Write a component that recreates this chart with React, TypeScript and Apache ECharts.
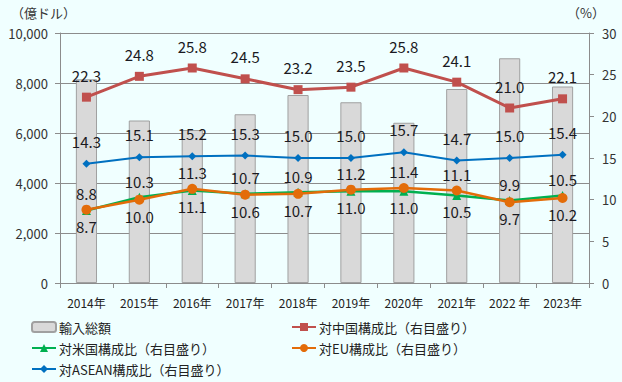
import React, { useEffect, useRef } from "react";
import * as echarts from "echarts";

const categories = ["2014年", "2015年", "2016年", "2017年", "2018年", "2019年", "2020年", "2021年", "2022 年", "2023年"];
const importTotal = [8150, 6500, 6120, 6750, 7520, 7230, 6410, 7760, 8990, 7860];
const chinaShare = [22.3, 24.8, 25.8, 24.5, 23.2, 23.5, 25.8, 24.1, 21.0, 22.1];
const usShare = [8.7, 10.3, 11.1, 10.7, 10.9, 11.0, 11.0, 10.5, 9.9, 10.5];
const euShare = [8.8, 10.0, 11.3, 10.6, 10.7, 11.2, 11.4, 11.1, 9.7, 10.2];
const aseanShare = [14.3, 15.1, 15.2, 15.3, 15.0, 15.0, 15.7, 14.7, 15.0, 15.4];
// which of US/EU label goes on top at each year
const usLabelTop = [false, true, false, true, true, false, false, false, true, true];

const FONT = "'Noto Sans CJK JP', 'Noto Sans', sans-serif";
const LABEL_COLOR = "#1a1a22";

const legendItems: [string, number, number][] = [
  ["輸入総額", 31, 320],
  ["対米国構成比（右目盛り）", 31, 341],
  ["対ASEAN構成比（右目盛り）", 31, 362],
  ["対中国構成比（右目盛り）", 291, 320],
  ["対EU構成比（右目盛り）", 291, 341],
];

export default function App() {
  const ref = useRef<HTMLDivElement>(null);
  useEffect(() => {
    if (!ref.current) return;
    const chart = echarts.init(ref.current, null, { renderer: "svg" });
    const lblBase = { show: true, fontSize: 15, color: LABEL_COLOR, fontFamily: FONT, formatter: (p: any) => Number(p.value).toFixed(1) };
    chart.setOption({
      animation: false,
      backgroundColor: "#f0ffff",
      textStyle: { fontFamily: FONT },
      grid: { left: 60, right: 33, top: 33, bottom: 99 },
      graphic: [
        { type: "text", left: 11, top: 6, style: { text: "（億ドル）", fontSize: 13, fill: "#333", fontFamily: FONT } },
        { type: "text", left: 567, top: 6, style: { text: "（%）", fontSize: 13, fill: "#333", fontFamily: FONT } },
      ],
      legend: legendItems.map(([name, left, top]) => ({
        left, top, orient: "horizontal", itemWidth: 24, itemHeight: 10, itemGap: 0,
        padding: 0,
        textStyle: { fontSize: 13, color: "#222", fontFamily: FONT, lineHeight: 14, padding: [0, 0, 0, -2] },
        data: [name],
      })),
      xAxis: {
        type: "category",
        data: categories,
        axisLine: { lineStyle: { color: "#8c8c8c" } },
        axisTick: { show: true, length: 5, lineStyle: { color: "#8c8c8c" } },
        axisLabel: { fontSize: 12, color: "#222", margin: 13, fontFamily: FONT, interval: 0 },
      },
      yAxis: [
        {
          type: "value", min: 0, max: 10000, interval: 2000,
          axisLine: { show: true, lineStyle: { color: "#8c8c8c" } },
          axisTick: { show: true, length: 5, lineStyle: { color: "#8c8c8c" } },
          splitLine: { lineStyle: { color: "#8c8c8c" } },
          axisLabel: { fontSize: 13, color: "#333", margin: 12, fontFamily: FONT, formatter: (v: number) => v.toLocaleString("en-US") },
        },
        {
          type: "value", min: 0, max: 30, interval: 5,
          axisLine: { show: true, lineStyle: { color: "#8c8c8c" } },
          axisTick: { show: true, length: 5, lineStyle: { color: "#8c8c8c" } },
          splitLine: { show: false },
          axisLabel: { fontSize: 13, color: "#333", margin: 13, fontFamily: FONT },
        },
      ],
      series: [
        {
          name: "輸入総額", type: "bar", data: importTotal, barWidth: "40%",
          itemStyle: { color: "#d9d9d9", borderColor: "#a0a0a0", borderWidth: 1 },
          z: 1,
        },
        {
          name: "対中国構成比（右目盛り）", type: "line", yAxisIndex: 1, data: chinaShare,
          symbol: "rect", symbolSize: 9, lineStyle: { color: "#c0504d", width: 3 },
          itemStyle: { color: "#c0504d" },
          label: { ...lblBase, position: "top", distance: 10 },
          z: 5,
        },
        {
          name: "対ASEAN構成比（右目盛り）", type: "line", yAxisIndex: 1, data: aseanShare,
          symbol: "diamond", symbolSize: 8, lineStyle: { color: "#0070c0", width: 2 },
          itemStyle: { color: "#0070c0" },
          label: { ...lblBase, position: "top", distance: 11 },
          z: 5,
        },
        {
          name: "対米国構成比（右目盛り）", type: "line", yAxisIndex: 1,
          data: usShare.map((v, i) => ({ value: v, label: { position: usLabelTop[i] ? "top" : "bottom" } })),
          symbol: "triangle", symbolSize: 9, lineStyle: { color: "#00b050", width: 2.5 },
          itemStyle: { color: "#00b050" },
          label: { ...lblBase, distance: 4 },
          z: 5,
        },
        {
          name: "対EU構成比（右目盛り）", type: "line", yAxisIndex: 1,
          data: euShare.map((v, i) => ({ value: v, label: { position: usLabelTop[i] ? "bottom" : "top" } })),
          symbol: "circle", symbolSize: 10, lineStyle: { color: "#e36c09", width: 2.5 },
          itemStyle: { color: "#e36c09" },
          label: { ...lblBase, distance: 4 },
          z: 6,
        },
      ],
    });
    return () => chart.dispose();
  }, []);
  return <div ref={ref} style={{ position: "fixed", left: 0, top: 0, width: 622, height: 382 }} />;
}
